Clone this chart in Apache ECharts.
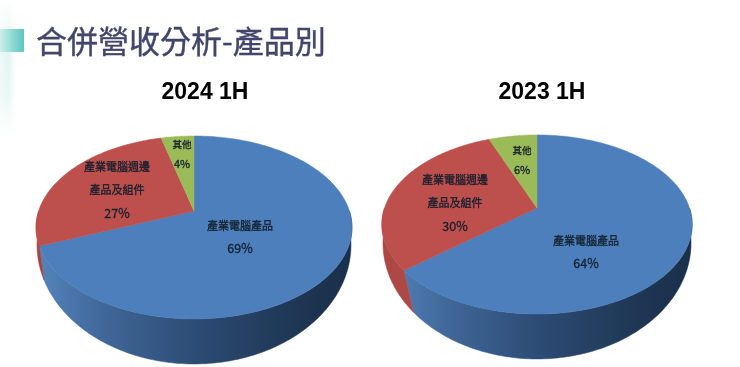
<!DOCTYPE html>
<html>
<head>
<meta charset="utf-8">
<style>
  html, body { margin: 0; padding: 0; background: #fff; }
  #chart { width: 740px; height: 367px; }
</style>
<script src="https://cdn.jsdelivr.net/npm/echarts@6/dist/echarts.min.js"></script>
</head>
<body>
<div id="chart"></div>
<script>
const categories = ["產業電腦產品", "產業電腦週邊\n產品及組件", "其他"];
const values2024 = [69, 27, 4];
const values2023 = [64, 30, 6];
const pieTitles = ["2024 1H", "2023 1H"];
const chartTitle = "合併營收分析-產品別";

const TOP_COLORS = ["#4c7fbb", "#bd4f4c", "#9bbb59"];
const LABEL_COLOR = "#14202e";
const FONT = '"Noto Sans CJK TC", sans-serif';
const HEAD_FONT = 'bold 23px "Liberation Sans", Arial, sans-serif';
// only the front half of the wall can be seen
const FRONT_FROM = 90;
const FRONT_TO = 270;

// perspective disc: (x, y) = apex + (a*u, b*v) / (1 - k*v)
const layout2024 = {
  top: { x: 194, y: 211, a: 155.4, b: 88.5, k: 0.18 },
  bottom: { x: 194, y: 223.6, a: 154.4, b: 115.1, k: 0.18 },
  seamShift: 5,
  redSide: "#a8423f",
  labels: [[240, 237, 11, 23], [117, 190, 11, 23], [182, 154, 9.5, 20]]
};
const layout2023 = {
  top: { x: 537, y: 208, a: 152.5, b: 86.5, k: 0.184 },
  bottom: { x: 537, y: 221.7, a: 151.4, b: 112, k: 0.184 },
  seamShift: 5,
  redSide: "#ad4844",
  labels: [[586, 252, 11, 23], [455, 203, 11, 23], [522, 160, 9.5, 20]]
};

function rimPoint(d, deg) {
  const rad = deg * Math.PI / 180;
  const u = Math.sin(rad);
  const v = -Math.cos(rad);
  const w = 1 - d.k * v;
  return [d.x + d.a * u / w, d.y + d.b * v / w];
}

function arcPoints(d, from, to) {
  const pts = [];
  const steps = Math.max(2, Math.ceil(Math.abs(to - from)));
  for (let i = 0; i <= steps; i++) pts.push(rimPoint(d, from + (to - from) * i / steps));
  return pts;
}

function sliceAngles(values, idx) {
  const total = values.reduce((s, v) => s + v, 0);
  const before = values.slice(0, idx).reduce((s, v) => s + v, 0);
  return [before / total * 360, (before + values[idx]) / total * 360];
}

function sideFill(lay, idx) {
  if (idx !== 0) return lay.redSide;
  const d = lay.top;
  return new echarts.graphic.LinearGradient(d.x - d.a, 0, d.x + d.a, 0, [
    { offset: 0, color: "#5484bd" },
    { offset: 0.2, color: "#41689a" },
    { offset: 0.5, color: "#2d4c75" },
    { offset: 0.8, color: "#1f3856" },
    { offset: 1, color: "#1a2f4b" }
  ], true);
}

function sideSeries(values, lay) {
  // seam between two slices leans a little on the wall, the ends of the front half do not
  const lowerAngle = (a) => (a === FRONT_FROM || a === FRONT_TO ? a : a - lay.seamShift);
  return {
    type: "custom",
    z: 1,
    coordinateSystem: "none",
    silent: true,
    data: values.map((v, i) => ({ value: [v], name: categories[i] })),
    renderItem: (params) => {
      const [s0, s1] = sliceAngles(values, params.dataIndex);
      const a0 = Math.max(s0, FRONT_FROM);
      const a1 = Math.min(s1, FRONT_TO);
      if (a1 <= a0) return null;
      const pts = arcPoints(lay.top, a0, a1).concat(arcPoints(lay.bottom, lowerAngle(a1), lowerAngle(a0)));
      const fill = sideFill(lay, params.dataIndex);
      return { type: "polygon", shape: { points: pts }, style: { fill: fill, stroke: fill, lineWidth: 0.5 } };
    }
  };
}

function labelRich(size, lh) {
  const base = { fill: LABEL_COLOR, stroke: LABEL_COLOR, lineWidth: 0.3, lineHeight: lh, fontFamily: FONT };
  return {
    n: Object.assign({ fontSize: size }, base),
    p: Object.assign({ fontSize: size + 1.5 }, base)
  };
}

function topSeries(values, lay) {
  return {
    type: "custom",
    z: 2,
    coordinateSystem: "none",
    silent: true,
    data: values.map((v, i) => ({ value: [v], name: categories[i] })),
    renderItem: (params, api) => {
      const idx = params.dataIndex;
      const [a0, a1] = sliceAngles(values, idx);
      const pts = [[lay.top.x, lay.top.y]].concat(arcPoints(lay.top, a0, a1));
      const [lx, ly, size, lh] = lay.labels[idx];
      const nameLines = categories[idx].split("\n").map((t) => "{n|" + t + "}");
      return {
        type: "group",
        children: [
          { type: "polygon", shape: { points: pts }, style: { fill: TOP_COLORS[idx], stroke: TOP_COLORS[idx], lineWidth: 0.5 } },
          {
            type: "text",
            z2: 10,
            style: {
              x: lx,
              y: ly,
              text: nameLines.concat("{p|" + api.value(0) + "%}").join("\n"),
              rich: labelRich(size, lh),
              align: "center",
              verticalAlign: "middle"
            }
          }
        ]
      };
    }
  };
}

const chart = echarts.init(document.getElementById("chart"), null, { renderer: "canvas" });
chart.setOption({
  animation: false,
  backgroundColor: "#ffffff",
  graphic: [
    {
      type: "rect",
      shape: { x: 0, y: 0, width: 16, height: 135 },
      style: {
        fill: new echarts.graphic.LinearGradient(0, 0, 0, 1, [
          { offset: 0, color: "#ffffff" },
          { offset: 0.4, color: "#e2f6f2" },
          { offset: 0.7, color: "#e8f8f4" },
          { offset: 1, color: "#ffffff" }
        ])
      }
    },
    {
      type: "rect",
      shape: { x: 0, y: 0, width: 16, height: 135 },
      style: {
        fill: new echarts.graphic.LinearGradient(0, 0, 1, 0, [
          { offset: 0, color: "rgba(255,255,255,0.35)" },
          { offset: 0.55, color: "rgba(255,255,255,0)" },
          { offset: 1, color: "rgba(255,255,255,1)" }
        ])
      }
    },
    {
      type: "rect",
      shape: { x: 0, y: 29, width: 24, height: 23 },
      style: {
        fill: new echarts.graphic.LinearGradient(0, 0, 1, 0, [
          { offset: 0, color: "#cfeeea" },
          { offset: 0.5, color: "#8fdad3" },
          { offset: 1, color: "#5fc6c0" }
        ])
      }
    },
    {
      type: "text",
      style: { x: 36, y: 41, text: chartTitle, fill: "#41456a", stroke: "#41456a", lineWidth: 0.4, font: "31px " + FONT, verticalAlign: "middle" }
    },
    {
      type: "text",
      style: { x: 205, y: 93, text: pieTitles[0], fill: "#000", font: HEAD_FONT, align: "center", verticalAlign: "middle" }
    },
    {
      type: "text",
      style: { x: 542, y: 93, text: pieTitles[1], fill: "#000", font: HEAD_FONT, align: "center", verticalAlign: "middle" }
    }
  ],
  series: [
    sideSeries(values2024, layout2024),
    topSeries(values2024, layout2024),
    sideSeries(values2023, layout2023),
    topSeries(values2023, layout2023)
  ]
});
</script>
</body>
</html>
